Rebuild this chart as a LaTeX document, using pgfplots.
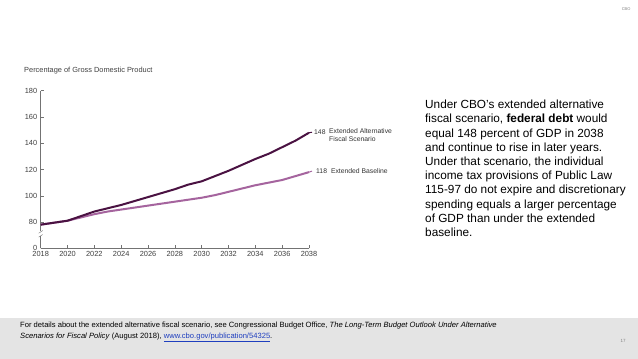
\documentclass[border=0pt]{standalone}
\usepackage{pgfplots}
\pgfplotsset{compat=1.18}
\usepackage{fontspec}
\setmainfont{Liberation Sans}
\usepackage{xcolor}
\definecolor{altc}{HTML}{4A1242}
\definecolor{basec}{HTML}{A5649E}
\definecolor{footbg}{HTML}{E4E4E4}
\definecolor{linkc}{HTML}{1F3FBF}
\begin{document}
\begin{tikzpicture}[x=1pt,y=1pt]
\path[use as bounding box] (0,0) rectangle (638,359);
\fill[white] (0,0) rectangle (638,359);
\fill[footbg] (0,0) rectangle (638,41);
\node[anchor=north east,font=\fontsize{4}{5}\selectfont,text=gray] at (634,355) {CBO};
\node[anchor=west,font=\fontsize{4.5}{5}\selectfont,text=gray] at (617,18) {17};
\node[anchor=north west,align=left,font=\fontsize{7.6}{11.5}\selectfont,inner sep=0pt] at (20,37.5) {For details about the extended alternative fiscal scenario, see Congressional Budget Office, \textit{The Long-Term Budget Outlook Under Alternative}\\\textit{Scenarios for Fiscal Policy} (August 2018), \textcolor{linkc}{\underline{www.cbo.gov/publication/54325}}.};
\node[anchor=north west,align=left,font=\fontsize{11.8}{14.2}\selectfont,inner sep=0pt] at (425,259) {Under CBO's extended alternative\\fiscal scenario, \textbf{federal debt} would\\equal 148 percent of GDP in 2038\\and continue to rise in later years.\\Under that scenario, the individual\\income tax provisions of Public Law\\115-97 do not expire and discretionary\\spending equals a larger percentage\\of GDP than under the extended\\baseline.};
\node[anchor=west,font=\fontsize{7.4}{8}\selectfont,text=black!75,inner sep=0pt] at (24,288) {Percentage of Gross Domestic Product};
\begin{axis}[
  at={(40.7pt,110.7pt)}, anchor=south west,
  scale only axis, width=268.3pt, height=157.6pt,
  xmin=2018, xmax=2038, ymin=60, ymax=180,
  axis lines*=left,
  axis line style={black!55, line width=0.5pt},
  xtick={2018,2020,...,2038},
  ytick={60,80,100,120,140,160,180},
  yticklabels={0,80,100,120,140,160,180},
  tick style={black!55, line width=0.4pt},
  major tick length=3pt,
  xtick pos=bottom, ytick pos=left,
  tick align=inside,
  ticklabel style={font=\fontsize{7.4}{8}\selectfont, text=black!75},
  /pgf/number format/assume math mode=true,
  xticklabel={\pgfmathprintnumber[1000 sep={}]{\tick}},
  clip=false,
]
\addplot[basec, line width=2pt] coordinates {
(2018,78)(2019,79.5)(2020,81)(2021,83.5)(2022,86)(2023,88)(2024,89.5)(2025,91)(2026,92.5)(2027,94)(2028,95.5)(2029,97)(2030,98.5)(2031,100.5)(2032,103)(2033,105.5)(2034,108)(2035,110)(2036,112)(2037,115)(2038,118)};
\addplot[altc, line width=2pt] coordinates {
(2018,78)(2019,79.5)(2020,81)(2021,84.5)(2022,88)(2023,90.5)(2024,93)(2025,96)(2026,99)(2027,102)(2028,105)(2029,108.5)(2030,111)(2031,115)(2032,119)(2033,123.5)(2034,128)(2035,132)(2036,137)(2037,142)(2038,148)};
\draw[basec, line width=1pt] (axis cs:2038,118) -- ++(3pt,1pt);
\draw[altc, line width=1pt] (axis cs:2038,148) -- ++(3pt,0.5pt);
\node[anchor=west,font=\fontsize{6.8}{7.2}\selectfont,text=black!80,inner sep=0pt] at ([xshift=5pt]axis cs:2038,148.5) {148};
\node[anchor=north west,align=left,font=\fontsize{6.8}{7.2}\selectfont,text=black!80,inner sep=0pt] at ([xshift=20pt,yshift=3.2pt]axis cs:2038,148.5) {Extended Alternative\\Fiscal Scenario};
\node[anchor=west,font=\fontsize{6.8}{7.2}\selectfont,text=black!80,inner sep=0pt] at ([xshift=7pt,yshift=1pt]axis cs:2038,118) {118\hspace{4pt}Extended Baseline};
\fill[white] ([xshift=-3pt]axis cs:2018,69) rectangle ([xshift=3pt]axis cs:2018,73);
\draw[black!55, line width=0.4pt] ([xshift=-2pt]axis cs:2018,68.5) -- ([xshift=2pt]axis cs:2018,70.5);
\draw[black!55, line width=0.4pt] ([xshift=-2pt]axis cs:2018,71.5) -- ([xshift=2pt]axis cs:2018,73.5);
\end{axis}
\end{tikzpicture}
\end{document}
